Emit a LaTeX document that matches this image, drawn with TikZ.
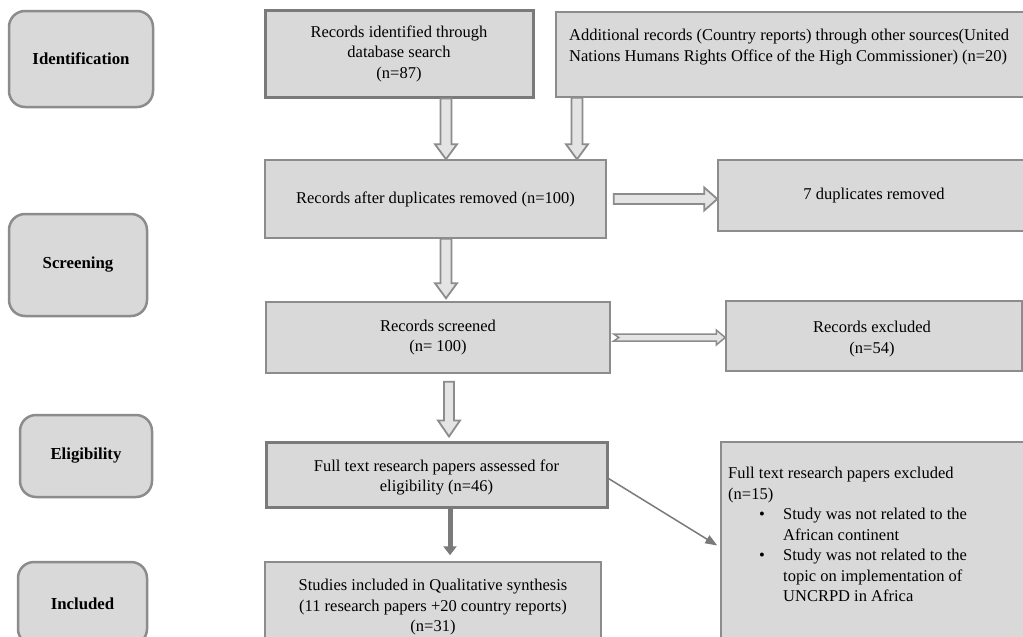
\documentclass[tikz,border=0pt]{standalone}
\usepackage{fontspec}
\setmainfont{Liberation Serif}
\usetikzlibrary{arrows.meta,calc}
\definecolor{boxfill}{HTML}{D9D9D9}
\definecolor{boxline}{HTML}{8C8C8C}
\definecolor{darkline}{HTML}{7A7A7A}
\definecolor{arrfill}{HTML}{E4E4E4}
\newcommand{\mainfs}{\fontsize{16.5}{20.5}\selectfont}
\newcommand{\labfs}{\fontsize{16.8}{20}\selectfont\bfseries}
\tikzset{
  box/.style={draw=boxline, line width=1.5pt, fill=boxfill, inner sep=0pt, align=center, font=\mainfs},
  thickbox/.style={box, draw=darkline, line width=3pt},
  labbox/.style={draw=boxline, line width=2.5pt, fill=boxfill, rounded corners=16pt, inner sep=0pt, font=\labfs},
  boxtext/.style={inner sep=0pt, align=left, font=\mainfs},
  hollow/.style={draw=boxline, line width=1.8pt, fill=arrfill, line join=miter},
  blockdown/.style args={#1/#2/#3}{to path={let \p1=(\tikztostart), \p2=(\tikztotarget) in
     (\x1-#1,\y1) -- (\x1-#1,\y2+#3) -- (\x1-#2,\y2+#3) -- (\x1,\y2) -- (\x1+#2,\y2+#3) -- (\x1+#1,\y2+#3) -- (\x1+#1,\y1) -- cycle}},
  blockright/.style args={#1/#2/#3/#4}{to path={let \p1=(\tikztostart), \p2=(\tikztotarget) in
     (\x1,\y1+#1) -- (\x2-#3,\y1+#1) -- (\x2-#3,\y1+#2) -- (\x2,\y1) -- (\x2-#3,\y1-#2) -- (\x2-#3,\y1-#1) -- (\x1,\y1-#1) -- (\x1+#4,\y1) -- cycle}},
  solidarrow/.style={draw=darkline, line width=5pt, -{Triangle[width=13pt,length=9pt]}},
  thinarrow/.style={draw=darkline, line width=1.5pt, -{Triangle[width=9pt,length=12pt]}}
}
\begin{document}
\begin{tikzpicture}[x=1pt,y=-1pt]
\useasboundingbox (0,0) rectangle (1023,637);
\fill[white] (0,0) rectangle (1023,637);

% stage labels
\node[labbox, minimum width=144pt, minimum height=96pt] (idl) at (81,59) {Identification};
\node[labbox, minimum width=138pt, minimum height=102pt] (scl) at (78,265) {Screening};
\node[labbox, minimum width=132pt, minimum height=82pt] (ell) at (86,456) {Eligibility};
\node[labbox, minimum width=129pt, minimum height=83pt] (inl) at (82.5,603.5) {Included};

% flow boxes
\node[thickbox, minimum width=268pt, minimum height=87pt] (ri) at (399,53.5)
  {Records identified through\\database search\\(n=87)};
\node[box, minimum width=484pt, minimum height=85pt] (ad) at (798,54.5) {};
\node[boxtext, anchor=west] (adt) at (569,47)
  {Additional records (Country reports) through other sources(United\\Nations Humans Rights Office of the High Commissioner) (n=20)};
\node[box, minimum width=341pt, minimum height=78pt] (rd) at (435.5,199)
  {Records after duplicates removed (n=100)};
\node[box, minimum width=312pt, minimum height=71pt] (dup) at (874,195.5)
  {7 duplicates removed};
\node[box, minimum width=344pt, minimum height=71pt] (rs) at (438,337.5)
  {Records screened\\(n= 100)};
\node[box, minimum width=296pt, minimum height=70pt] (rex) at (874,336) {};
\node[boxtext, align=center] (rext) at (872,339) {Records excluded\\(n=54)};
\node[thickbox, minimum width=341pt, minimum height=65pt] (ft) at (436.5,474.5) {};
\node[boxtext, align=center] (ftt) at (436.5,477.5) {Full text research papers assessed for\\eligibility (n=46)};
\node[box, minimum width=309pt, minimum height=203pt] (fex) at (875.5,543.5) {};
\node[boxtext, anchor=north west] (fext) at (728,467)
  {Full text research papers excluded\\
   (n=15)\\
   \hspace*{31pt}\makebox[24pt][l]{\textbullet}Study was not related to the\\
   \hspace*{55pt}African continent\\
   \hspace*{31pt}\makebox[24pt][l]{\textbullet}Study was not related to the\\
   \hspace*{55pt}topic on implementation of\\
   \hspace*{55pt}UNCRPD in Africa};
\node[box, minimum width=336pt, minimum height=91pt] (si) at (433,607.5)
  {Studies included in Qualitative synthesis\\(11 research papers +20 country reports)\\(n=31)};

% arrow columns
\coordinate (colA) at (446,0);
\coordinate (colB) at (577,0);
\coordinate (colC) at (449,0);
\coordinate (colD) at (450,0);

% connectors
\draw[hollow, blockdown=5.5pt/11pt/15pt] (ri.south -| colA) to (rd.north -| colA);
\draw[hollow, blockdown=5.5pt/11pt/15pt] (ad.south -| colB) to (rd.north -| colB);
\draw[hollow, blockright=5pt/11.5pt/13pt/0pt] ([xshift=7pt]rd.east) to (dup.west |- rd.east);
\draw[hollow, blockdown=5.5pt/11pt/15pt] (rd.south -| colA) to ([yshift=3pt]rs.north -| colA);
\draw[hollow, line width=1.5pt, blockright=3.5pt/7.5pt/9pt/5pt] ([xshift=3pt]rs.east) to (rex.west |- rs.east);
\draw[hollow, blockdown=5pt/11pt/16pt] ([yshift=-8pt]rs.south -| colC) to ([yshift=4pt]ft.north -| colC);
\draw[solidarrow] (ft.south -| colD) to ([yshift=6pt]si.north -| colD);
\draw[thinarrow] ([yshift=-4pt]ft.east) to ([xshift=-3pt,yshift=-2pt]fex.west);
\end{tikzpicture}
\end{document}
